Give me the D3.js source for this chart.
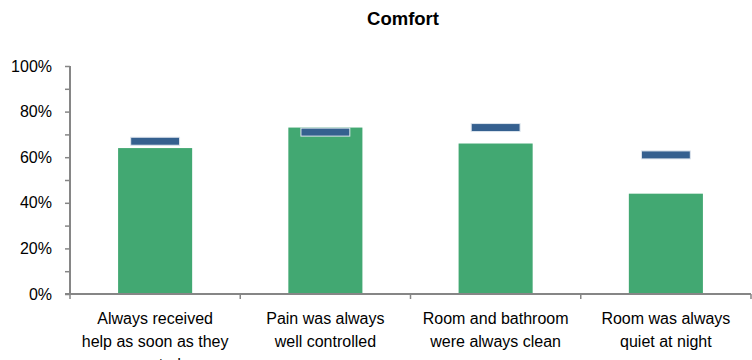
<!DOCTYPE html>
<html>
<head>
<meta charset="utf-8">
<script src="https://cdn.jsdelivr.net/npm/d3@7"></script>
<style>
  body { margin: 0; background: #fff; }
  svg { display: block; font-family: "Liberation Sans", Arial, sans-serif; }
</style>
</head>
<body>
<div id="chart"></div>
<script>
// chart data
const categories = [
  "Always received help as soon as they wanted",
  "Pain was always well controlled",
  "Room and bathroom were always clean",
  "Room was always quiet at night"
];
const labelLines = [
  ["Always received", "help as soon as they", "wanted"],
  ["Pain was always", "well controlled"],
  ["Room and bathroom", "were always clean"],
  ["Room was always", "quiet at night"]
];
const hospitalValues = [0.64, 0.73, 0.66, 0.44];
const benchmarkValues = [0.67, 0.71, 0.73, 0.61];
const yTicks = [0, 0.2, 0.4, 0.6, 0.8, 1.0];
const yMinorTicks = [0.1, 0.3, 0.5, 0.7, 0.9];

const W = 752, H = 360;
const margin = { top: 66, right: 1, bottom: 66, left: 70 };
const width = W - margin.left - margin.right;
const height = H - margin.top - margin.bottom;

const svg = d3.select("#chart").append("svg")
  .attr("width", W)
  .attr("height", H);

svg.append("text")
  .attr("x", 403)
  .attr("y", 25)
  .attr("text-anchor", "middle")
  .attr("font-size", 18.5)
  .attr("font-weight", "bold")
  .text("Comfort");

const g = svg.append("g")
  .attr("transform", `translate(${margin.left},${margin.top})`);

const x = d3.scaleBand()
  .domain(categories)
  .range([0, width])
  .paddingInner(0.565)
  .paddingOuter(0.2825);

const y = d3.scaleLinear()
  .domain([0, 1])
  .range([height, 0]);

const axisColor = "#868686";

// bars
g.selectAll("rect.bar")
  .data(hospitalValues)
  .join("rect")
  .attr("class", "bar")
  .attr("x", (d, i) => x(categories[i]))
  .attr("y", d => y(d))
  .attr("width", x.bandwidth())
  .attr("height", d => height - y(d))
  .attr("fill", "#42a872");

// benchmark markers
const markW = x.bandwidth() * 0.66;
const markH = 8;
g.selectAll("rect.mark")
  .data(benchmarkValues)
  .join("rect")
  .attr("class", "mark")
  .attr("x", (d, i) => x(categories[i]) + x.bandwidth() / 2 - markW / 2)
  .attr("y", d => y(d) - markH / 2)
  .attr("width", markW)
  .attr("height", markH)
  .attr("fill", "#35608f")
  .attr("stroke", "#dfe6ee")
  .attr("stroke-width", 1);

// y axis
const yAxis = g.append("g")
  .call(d3.axisLeft(y).tickValues(yTicks).tickFormat(d3.format(".0%")).tickSize(5).tickPadding(13));
yAxis.append("g")
  .call(d3.axisLeft(y).tickValues(yMinorTicks).tickFormat("").tickSize(5))
  .select(".domain").remove();
yAxis.selectAll("path.domain").attr("stroke", axisColor).attr("stroke-width", 2);
yAxis.selectAll(".tick line").attr("stroke", axisColor).attr("stroke-width", 1.5);
yAxis.selectAll("text")
  .attr("font-size", 16)
  .attr("fill", "#000")
  .attr("font-family", "Liberation Sans, Arial, sans-serif");
yAxis.select("path.domain").attr("d", `M0,0V${height}`);

// x axis
const xAxis = g.append("g").attr("transform", `translate(0,${height})`);
xAxis.append("line")
  .attr("x1", -5).attr("x2", width)
  .attr("stroke", axisColor).attr("stroke-width", 2);
const tickX = d3.scaleLinear().domain([0, categories.length]).range([0, width]);
xAxis.selectAll("line.tk")
  .data(d3.range(categories.length + 1))
  .join("line")
  .attr("class", "tk")
  .attr("x1", d => tickX(d)).attr("x2", d => tickX(d))
  .attr("y1", 0).attr("y2", 5)
  .attr("stroke", axisColor).attr("stroke-width", 1.5);

xAxis.selectAll("text.cat")
  .data(labelLines)
  .join("text")
  .attr("class", "cat")
  .attr("text-anchor", "middle")
  .attr("font-size", 16)
  .attr("fill", "#000")
  .attr("transform", (d, i) => `translate(${x(categories[i]) + x.bandwidth() / 2},0)`)
  .selectAll("tspan")
  .data(d => d)
  .join("tspan")
  .attr("x", 0)
  .attr("y", (d, j) => 30 + j * 23)
  .text(d => d);
</script>
</body>
</html>
